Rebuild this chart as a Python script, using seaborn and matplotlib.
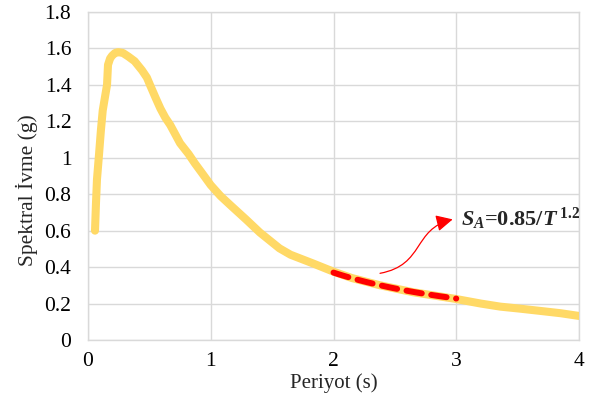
import numpy as np
import pandas as pd
import matplotlib
matplotlib.use("Agg")
import matplotlib.pyplot as plt
import seaborn as sns
from matplotlib.patches import FancyArrowPatch
from matplotlib.path import Path

# Spectral acceleration curve
period = [0.057, 0.065, 0.073, 0.09, 0.105, 0.12, 0.14, 0.155, 0.163, 0.18, 0.196, 0.22, 0.245,
          0.285, 0.33, 0.38, 0.44, 0.48, 0.505, 0.55, 0.59, 0.63, 0.67, 0.75, 0.82, 0.87,
          0.93, 1.00, 1.08, 1.16, 1.29, 1.40, 1.56, 1.65, 1.83, 2.00, 2.15, 2.38, 2.65,
          2.99, 3.20, 3.36, 3.52, 3.68, 3.85, 4.0]
accel = [0.60, 0.75, 0.88, 1.02, 1.15, 1.26, 1.34, 1.40, 1.51, 1.545, 1.56, 1.575, 1.58,
         1.575, 1.555, 1.53, 1.48, 1.44, 1.40, 1.33, 1.27, 1.22, 1.18, 1.08, 1.02, 0.97,
         0.915, 0.85, 0.79, 0.74, 0.66, 0.59, 0.503, 0.468, 0.421, 0.375, 0.34, 0.30, 0.262,
         0.226, 0.20, 0.183, 0.172, 0.16, 0.147, 0.132]

# Fitted decay  S_A = 0.85 / T^1.2
fit_coef = 0.85
fit_exp = 1.2
fit_period = np.linspace(2.0, 3.0, 30)
fit_accel = fit_coef / fit_period ** fit_exp

x_ticks = [0, 1, 2, 3, 4]
y_ticks = [0, 0.2, 0.4, 0.6, 0.8, 1, 1.2, 1.4, 1.6, 1.8]
y_tick_labels = ["0", "0.2", "0.4", "0.6", "0.8", "1", "1.2", "1.4", "1.6", "1.8"]

sns.set_theme(style="white")
plt.rcParams["font.family"] = ["Liberation Serif", "DejaVu Serif"]
plt.rcParams["mathtext.fontset"] = "custom"
plt.rcParams["mathtext.rm"] = "Liberation Serif:bold"
plt.rcParams["mathtext.it"] = "Liberation Serif:italic:bold"
plt.rcParams["mathtext.bf"] = "Liberation Serif:bold"

fig = plt.figure(figsize=(5.89, 4.01), dpi=100)
ax = fig.add_axes([88 / 589, 1 - 340 / 401, (579 - 88) / 589, (340 - 12) / 401])

curve = pd.DataFrame({"T": period, "SA": accel})
fit = pd.DataFrame({"T": fit_period, "SA": fit_accel})

sns.lineplot(data=curve, x="T", y="SA", ax=ax, color="#FFD966", linewidth=5.8,
             sort=False, solid_capstyle="round", solid_joinstyle="round", zorder=3)
sns.lineplot(data=fit, x="T", y="SA", ax=ax, color="#FF0000", linewidth=4.3,
             zorder=4, dashes=False)
ax.lines[-1].set_dashes((2.6, 1.6))
ax.lines[-1].set_dash_capstyle("round")

ax.set_xlim(0, 4)
ax.set_ylim(0, 1.8)
ax.set_xticks(x_ticks)
ax.set_yticks(y_ticks)
ax.set_yticklabels(y_tick_labels)
ax.grid(True, color="#D9D9D9", linewidth=1.0)
for s in ax.spines.values():
    s.set_color("#D9D9D9")
    s.set_linewidth(1.0)
ax.tick_params(axis="both", length=0, labelsize=15.5, colors="black")
ax.tick_params(axis="y", pad=12)
ax.tick_params(axis="x", pad=9)
ax.set_xlabel("Periyot (s)", fontsize=15, va="center")
ax.xaxis.set_label_coords(0.5, -0.133)
ax.set_ylabel("Spektral İvme (g)", fontsize=15.5, va="center")
ax.yaxis.set_label_coords(-0.124, 0.457)

# Curved pointer to the formula
verts = [(2.379, 0.366), (2.745, 0.412), (2.644, 0.608), (2.971, 0.662)]
codes = [Path.MOVETO, Path.CURVE4, Path.CURVE4, Path.CURVE4]
arrow = FancyArrowPatch(path=Path(verts, codes), arrowstyle="-|>,head_length=10,head_width=5",
                        color="#FF0000", linewidth=0.9, transform=ax.transData, zorder=5)
ax.add_patch(arrow)

ax.text(3.04, 0.665, r"$S_A$=0.85/$T$$^{\ 1.2}$",
        fontsize=16, fontweight="bold", va="center", ha="left", zorder=6)

fig.savefig("out.png", dpi=100)
